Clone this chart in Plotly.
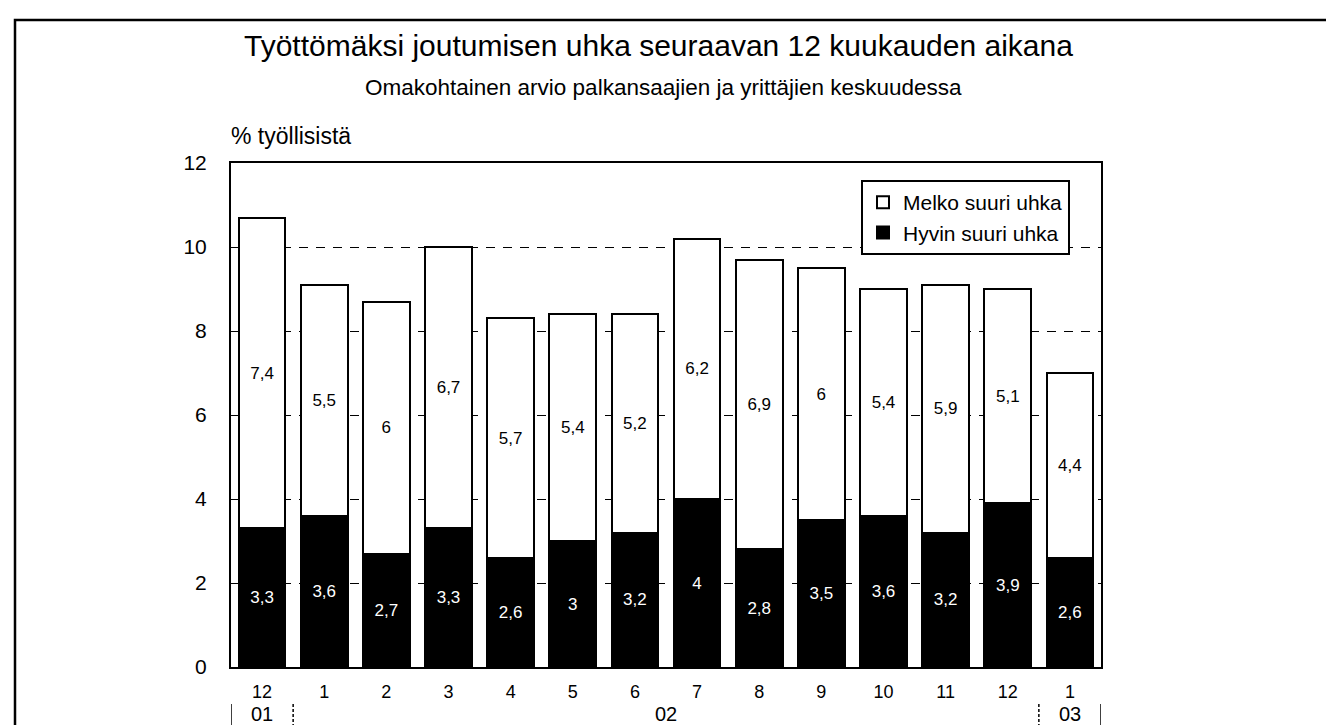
import plotly.graph_objects as go

# ---- data ----
months = ["12", "1", "2", "3", "4", "5", "6", "7", "8", "9", "10", "11", "12", "1"]
year_labels = ["01", "02", "03"]
melko = [7.4, 5.5, 6, 6.7, 5.7, 5.4, 5.2, 6.2, 6.9, 6, 5.4, 5.9, 5.1, 4.4]
hyvin = [3.3, 3.6, 2.7, 3.3, 2.6, 3, 3.2, 4, 2.8, 3.5, 3.6, 3.2, 3.9, 2.6]
series_names = ["Hyvin suuri uhka", "Melko suuri uhka"]

title = "Työttömäksi joutumisen uhka seuraavan 12 kuukauden aikana"
subtitle = "Omakohtainen arvio palkansaajien ja yrittäjien keskuudessa"
ylabel = "% työllisistä"

FONT = "Liberation Sans, Arial, sans-serif"

def fmt(v):
    return f"{v:g}".replace(".", ",")

x = list(range(len(months)))

fig = go.Figure()
fig.add_trace(go.Bar(
    x=x, y=hyvin, name=series_names[0], legendrank=2,
    marker=dict(color="black", line=dict(color="black", width=2)),
    text=[fmt(v) for v in hyvin], textposition="inside", insidetextanchor="middle",
    textangle=0, insidetextfont=dict(color="white", size=17, family=FONT),
    hoverinfo="skip",
))
fig.add_trace(go.Bar(
    x=x, y=melko, name=series_names[1], legendrank=1,
    marker=dict(color="white", line=dict(color="black", width=2)),
    text=[fmt(v) for v in melko], textposition="inside", insidetextanchor="middle",
    textangle=0, insidetextfont=dict(color="black", size=17, family=FONT),
    hoverinfo="skip",
))

L, R, T, B = 223, 1334 - 1093, 155, 725 - 659
PW, PH = 1093 - 223, 659 - 155

def px(xp):
    return (xp - L) / PW

def py(yp):
    return (659 - yp) / PH

annotations = [
    dict(text=title, x=px(650), y=py(38), xref="paper", yref="paper",
         showarrow=False, xanchor="center", yanchor="middle",
         font=dict(size=30, family=FONT, color="black")),
    dict(text=subtitle, x=px(655), y=py(79), xref="paper", yref="paper",
         showarrow=False, xanchor="center", yanchor="middle",
         font=dict(size=22.5, family=FONT, color="black")),
    dict(text=ylabel, x=px(221), y=py(128), xref="paper", yref="paper",
         showarrow=False, xanchor="left", yanchor="middle",
         font=dict(size=23, family=FONT, color="black")),
]
year_pos = [0, 6.5, 13]
for lab, xp in zip(year_labels, year_pos):
    annotations.append(dict(text=lab, x=xp, y=py(706), xref="x", yref="paper",
                            showarrow=False, xanchor="center", yanchor="middle",
                            font=dict(size=20, family=FONT, color="black")))

shapes = []
for xv, dash in [(-0.5, "solid"), (0.5, "3px,2px"), (12.5, "3px,2px"), (13.5, "solid")]:
    shapes.append(dict(type="line", xref="x", yref="paper", x0=xv, x1=xv,
                       y0=py(696), y1=py(730),
                       line=dict(color="black", width=1.5, dash=dash)))
# outer frame
shapes.append(dict(type="rect", xref="paper", yref="paper",
                   x0=px(7), x1=px(1345), y0=py(12), y1=py(740),
                   line=dict(color="black", width=2.5), fillcolor="rgba(0,0,0,0)"))

fig.update_layout(
    width=1334, height=725, autosize=False,
    margin=dict(l=L, r=R, t=T, b=B),
    paper_bgcolor="white", plot_bgcolor="white",
    barmode="stack", bargap=0.25,
    font=dict(family=FONT, color="black"),
    showlegend=True,
    legend=dict(x=px(853), y=py(172), xanchor="left", yanchor="top",
                bordercolor="black", borderwidth=2, bgcolor="white",
                font=dict(size=21, family=FONT, color="black"),
                traceorder="normal"),
    annotations=annotations, shapes=shapes,
    uniformtext=dict(mode=False),
)
fig.update_xaxes(range=[-0.5, 13.5], tickvals=x, ticktext=months,
                 tickfont=dict(size=18, family=FONT, color="black"),
                 showline=True, linecolor="black", linewidth=2, mirror=True,
                 showgrid=False, zeroline=False, ticks="", ticklabelstandoff=7)
fig.update_yaxes(range=[0, 12], dtick=2, tick0=0,
                 tickfont=dict(size=21, family=FONT, color="black"),
                 showline=True, linecolor="black", linewidth=2, mirror=True,
                 showgrid=True, gridcolor="black", gridwidth=1, griddash="9px,8px",
                 zeroline=False, ticks="", ticklabelstandoff=18)

fig.write_html("out.html")
